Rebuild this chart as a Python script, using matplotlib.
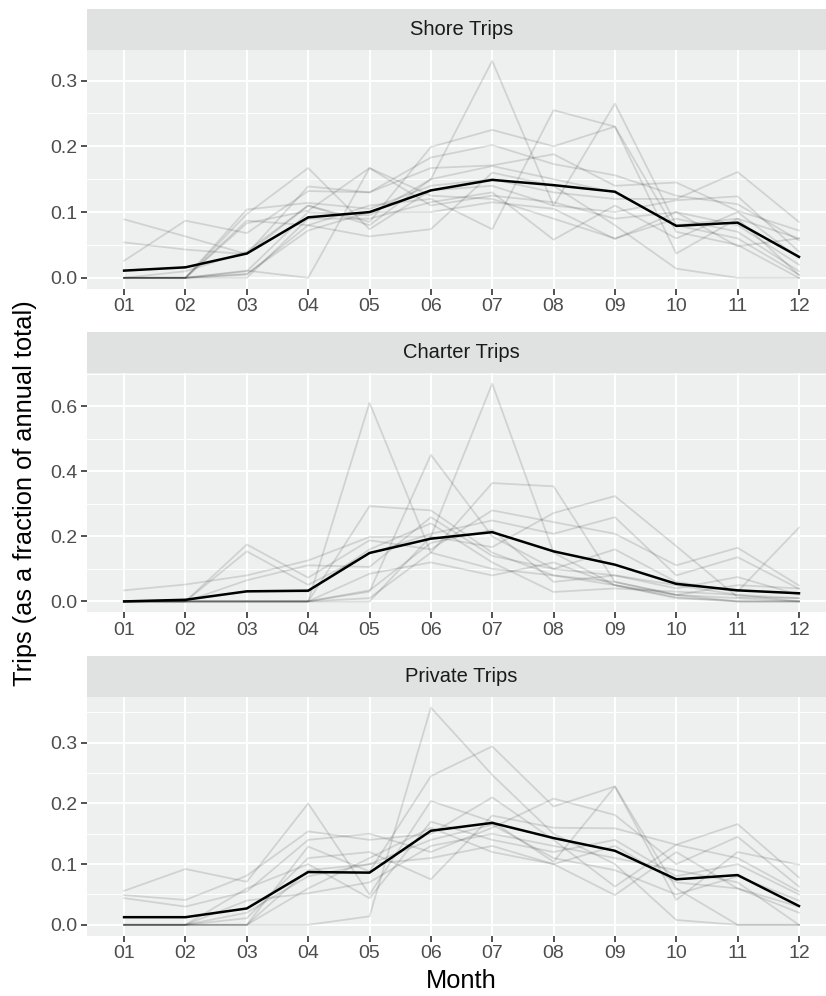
#!/usr/bin/env python3
"""Monthly share of annual trips by mode, one facet per mode (ggplot-like)."""
import matplotlib

matplotlib.use("Agg")
import matplotlib.pyplot as plt
from matplotlib.ticker import MultipleLocator, FormatStrFormatter

MONTHS = ["01", "02", "03", "04", "05", "06", "07", "08", "09", "10", "11", "12"]

# shore trips: one row per grey line, plus the black mean line
SHORE_LINES = [
    [0.000, 0.000, 0.010, 0.100, 0.095, 0.150, 0.330, 0.110, 0.265, 0.080, 0.060, 0.005],
    [0.000, 0.000, 0.005, 0.080, 0.110, 0.120, 0.074, 0.255, 0.230, 0.070, 0.050, 0.000],
    [0.089, 0.063, 0.036, 0.110, 0.085, 0.199, 0.225, 0.200, 0.230, 0.037, 0.090, 0.004],
    [0.054, 0.043, 0.036, 0.139, 0.130, 0.183, 0.202, 0.173, 0.156, 0.125, 0.112, 0.057],
    [0.026, 0.087, 0.068, 0.132, 0.130, 0.167, 0.171, 0.188, 0.140, 0.145, 0.102, 0.072],
    [0.000, 0.000, 0.104, 0.114, 0.105, 0.140, 0.150, 0.130, 0.120, 0.120, 0.161, 0.085],
    [0.000, 0.000, 0.097, 0.167, 0.074, 0.133, 0.140, 0.110, 0.100, 0.118, 0.124, 0.040],
    [0.000, 0.000, 0.083, 0.102, 0.167, 0.110, 0.125, 0.115, 0.090, 0.100, 0.080, 0.020],
    [0.000, 0.000, 0.087, 0.080, 0.063, 0.074, 0.160, 0.140, 0.080, 0.014, 0.000, 0.000],
    [0.000, 0.000, 0.011, 0.000, 0.167, 0.125, 0.120, 0.090, 0.060, 0.090, 0.070, 0.010],
    [0.000, 0.000, 0.006, 0.072, 0.100, 0.100, 0.115, 0.105, 0.059, 0.100, 0.048, 0.060],
    [0.000, 0.000, 0.000, 0.090, 0.090, 0.115, 0.130, 0.058, 0.110, 0.060, 0.100, 0.030],
    [0.000, 0.010, 0.040, 0.110, 0.080, 0.150, 0.170, 0.150, 0.130, 0.080, 0.090, 0.060],
]
SHORE_MEAN = [0.011, 0.016, 0.037, 0.092, 0.100, 0.133, 0.149, 0.141, 0.131, 0.079, 0.084, 0.032]

CHARTER_LINES = [
    [0.000, 0.000, 0.000, 0.000, 0.611, 0.150, 0.100, 0.080, 0.060, 0.020, 0.000, 0.000],
    [0.000, 0.000, 0.000, 0.000, 0.000, 0.200, 0.670, 0.150, 0.050, 0.010, 0.000, 0.000],
    [0.000, 0.000, 0.000, 0.000, 0.030, 0.451, 0.200, 0.100, 0.080, 0.050, 0.020, 0.000],
    [0.000, 0.000, 0.000, 0.000, 0.010, 0.150, 0.364, 0.354, 0.060, 0.020, 0.010, 0.000],
    [0.000, 0.000, 0.000, 0.000, 0.293, 0.280, 0.150, 0.080, 0.050, 0.020, 0.050, 0.040],
    [0.034, 0.052, 0.080, 0.126, 0.198, 0.200, 0.167, 0.272, 0.324, 0.170, 0.013, 0.010],
    [0.000, 0.000, 0.175, 0.073, 0.188, 0.160, 0.280, 0.244, 0.208, 0.111, 0.165, 0.049],
    [0.000, 0.000, 0.154, 0.051, 0.147, 0.208, 0.249, 0.208, 0.259, 0.080, 0.136, 0.039],
    [0.000, 0.000, 0.065, 0.111, 0.106, 0.259, 0.140, 0.100, 0.160, 0.060, 0.030, 0.227],
    [0.000, 0.000, 0.000, 0.000, 0.085, 0.120, 0.080, 0.120, 0.050, 0.013, 0.000, 0.000],
    [0.000, 0.000, 0.000, 0.000, 0.034, 0.180, 0.220, 0.060, 0.080, 0.040, 0.075, 0.020],
    [0.000, 0.005, 0.030, 0.030, 0.160, 0.240, 0.120, 0.029, 0.040, 0.030, 0.020, 0.010],
]
CHARTER_MEAN = [0.000, 0.005, 0.031, 0.033, 0.149, 0.193, 0.213, 0.154, 0.113, 0.054, 0.034, 0.025]

PRIVATE_LINES = [
    [0.000, 0.000, 0.000, 0.000, 0.014, 0.358, 0.247, 0.150, 0.100, 0.008, 0.000, 0.000],
    [0.000, 0.000, 0.000, 0.129, 0.088, 0.245, 0.294, 0.195, 0.228, 0.060, 0.000, 0.000],
    [0.056, 0.092, 0.071, 0.200, 0.050, 0.204, 0.170, 0.104, 0.228, 0.041, 0.120, 0.099],
    [0.049, 0.041, 0.081, 0.154, 0.140, 0.150, 0.210, 0.140, 0.063, 0.132, 0.166, 0.078],
    [0.044, 0.030, 0.055, 0.140, 0.150, 0.120, 0.160, 0.208, 0.181, 0.100, 0.145, 0.063],
    [0.000, 0.000, 0.011, 0.110, 0.120, 0.075, 0.180, 0.160, 0.159, 0.132, 0.110, 0.055],
    [0.000, 0.000, 0.060, 0.100, 0.044, 0.170, 0.140, 0.120, 0.140, 0.080, 0.100, 0.050],
    [0.000, 0.000, 0.040, 0.052, 0.070, 0.130, 0.150, 0.130, 0.110, 0.090, 0.070, 0.000],
    [0.000, 0.000, 0.020, 0.080, 0.100, 0.110, 0.130, 0.100, 0.049, 0.120, 0.060, 0.030],
    [0.000, 0.000, 0.000, 0.090, 0.100, 0.140, 0.165, 0.110, 0.090, 0.050, 0.080, 0.040],
    [0.000, 0.000, 0.000, 0.060, 0.110, 0.160, 0.120, 0.100, 0.130, 0.070, 0.060, 0.020],
]
PRIVATE_MEAN = [0.0126, 0.0126, 0.027, 0.087, 0.086, 0.155, 0.168, 0.143, 0.122, 0.075, 0.082, 0.031]

FACETS = ["Shore Trips", "Charter Trips", "Private Trips"]

PANEL_BG = "#EEEFEF"
STRIP_BG = "#E0E1E1"
FONT = "Liberation Sans"

W, H = 826, 996
LEFT_PX, RIGHT_PX = 87.3, 835.5
# (strip_top, panel_top, panel_bottom) in pixels from the top
ROWS_PX = [(9.3, 50.0, 288.7), (332.3, 372.7, 612.3), (656.0, 696.7, 935.7)]


def px_box(top, bottom):
    return [LEFT_PX / W, 1 - bottom / H, (RIGHT_PX - LEFT_PX) / W, (bottom - top) / H]


def draw_panel(fig, rows, name, lines, mean, major):
    strip_top, panel_top, panel_bottom = rows
    sax = fig.add_axes(px_box(strip_top, panel_top))
    sax.set_facecolor(STRIP_BG)
    sax.set_xticks([])
    sax.set_yticks([])
    for sp in sax.spines.values():
        sp.set_visible(False)
    sax.text(0.5, 0.5, name, ha="center", va="center", fontsize=14.5,
             color="#1A1A1A", family=FONT, transform=sax.transAxes)

    ax = fig.add_axes(px_box(panel_top, panel_bottom))
    ax.set_facecolor(PANEL_BG)
    x = list(range(1, len(MONTHS) + 1))
    for ys in lines:
        ax.plot(x, ys, color="black", alpha=0.12, lw=1.3, zorder=2)
    ax.plot(x, mean, color="black", lw=1.8, zorder=3)

    top = max(max(ys) for ys in lines)
    pad = top * 0.05
    ax.set_ylim(-pad, top + pad)
    ax.set_xlim(0.4, 0.4 + (RIGHT_PX - LEFT_PX) / 61.35)

    ax.set_xticks(x)
    ax.set_xticklabels(MONTHS)
    ax.yaxis.set_major_locator(MultipleLocator(major))
    ax.yaxis.set_minor_locator(MultipleLocator(major / 2))
    ax.yaxis.set_major_formatter(FormatStrFormatter("%.1f"))
    ax.grid(True, which="major", color="white", lw=1.4, zorder=1)
    ax.grid(True, which="minor", axis="y", color="white", lw=0.7, zorder=1)
    ax.set_axisbelow(True)
    for sp in ax.spines.values():
        sp.set_visible(False)
    ax.tick_params(which="major", length=4, width=1.2, color="#333333",
                   labelsize=14, labelcolor="#4D4D4D", pad=3)
    ax.tick_params(which="minor", length=0)
    for lab in ax.get_xticklabels() + ax.get_yticklabels():
        lab.set_family(FONT)
    return ax


fig = plt.figure(figsize=(W / 100, H / 100), dpi=100)

draw_panel(fig, ROWS_PX[0], FACETS[0], SHORE_LINES, SHORE_MEAN, 0.1)
draw_panel(fig, ROWS_PX[1], FACETS[1], CHARTER_LINES, CHARTER_MEAN, 0.2)
draw_panel(fig, ROWS_PX[2], FACETS[2], PRIVATE_LINES, PRIVATE_MEAN, 0.1)

mid_y = 1 - (ROWS_PX[0][1] + ROWS_PX[2][2]) / 2 / H
fig.text(25 / W, mid_y, "Trips (as a fraction of annual total)", rotation=90,
         ha="center", va="center", fontsize=18.3, family=FONT, color="black")
fig.text((LEFT_PX + RIGHT_PX) / 2 / W, 1 - 981 / H, "Month", ha="center", va="center",
         fontsize=18.3, family=FONT, color="black")

fig.savefig("out.png", dpi=100)
